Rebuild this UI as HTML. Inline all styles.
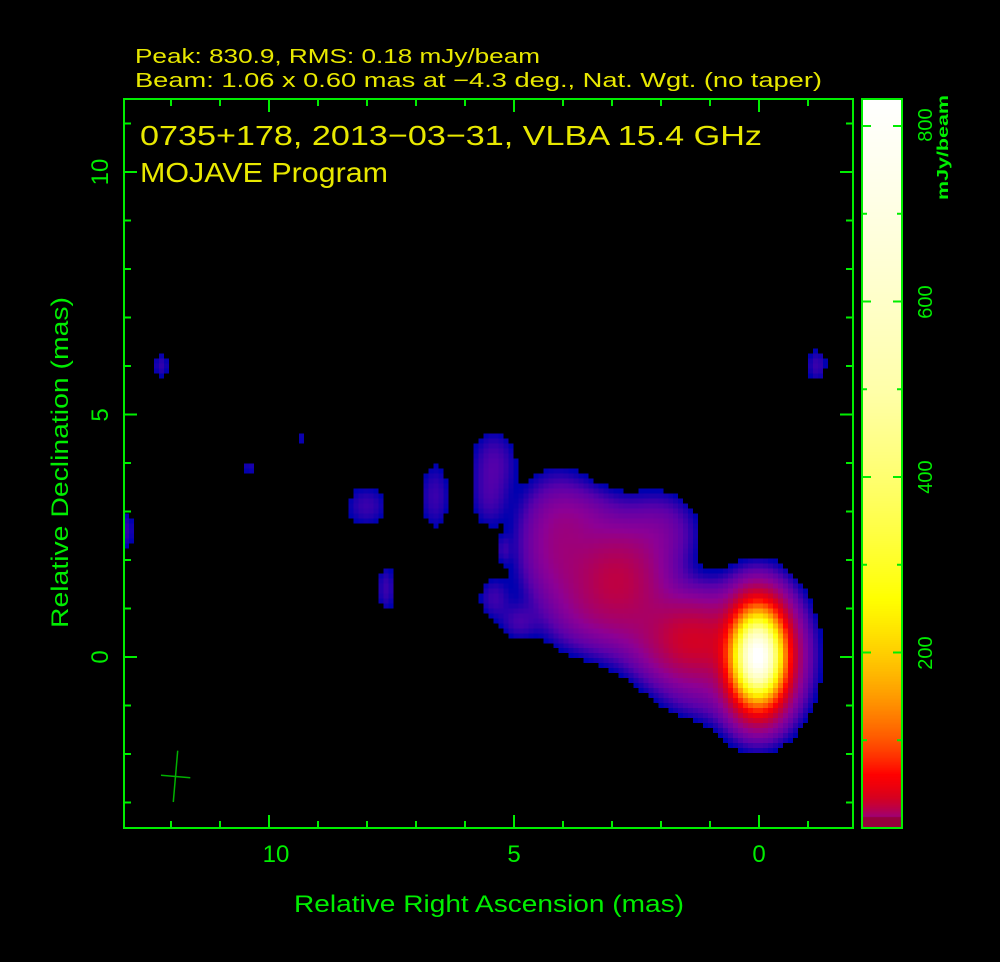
<!DOCTYPE html>
<html><head><meta charset="utf-8"><style>
html,body{margin:0;padding:0;background:#000;width:1000px;height:962px;overflow:hidden}
#c{position:absolute;left:124px;top:99px;image-rendering:pixelated}
#cb{position:absolute;left:862px;top:99px}
svg{position:absolute;left:0;top:0}
text{font-family:"Liberation Sans",sans-serif}
</style></head><body>
<canvas id="c" width="146" height="146" style="width:729px;height:729px"></canvas>
<canvas id="cb" width="40" height="729" style="width:40px;height:729px"></canvas>
<svg width="1000" height="962" id="s">
<g fill="#e8e800" font-size="20">
<text x="135" y="63" textLength="405" lengthAdjust="spacingAndGlyphs">Peak: 830.9, RMS: 0.18 mJy/beam</text>
<text x="135" y="87" textLength="687" lengthAdjust="spacingAndGlyphs">Beam: 1.06 x 0.60 mas at −4.3 deg., Nat. Wgt. (no taper)</text>
<text x="140" y="145" font-size="28" textLength="622" lengthAdjust="spacingAndGlyphs">0735+178, 2013−03−31, VLBA 15.4 GHz</text>
<text x="140" y="182" font-size="28" textLength="248" lengthAdjust="spacingAndGlyphs">MOJAVE Program</text>
</g>
<g fill="#00ee00" font-size="24">
<text x="759" y="862" text-anchor="middle">0</text>
<text x="514" y="862" text-anchor="middle">5</text>
<text x="276" y="862" text-anchor="middle">10</text>
<text x="294" y="912" textLength="390" lengthAdjust="spacingAndGlyphs">Relative Right Ascension (mas)</text>
<text transform="translate(108,657) rotate(-90)" text-anchor="middle">0</text>
<text transform="translate(108,415) rotate(-90)" text-anchor="middle">5</text>
<text transform="translate(108,172) rotate(-90)" text-anchor="middle">10</text>
<text transform="translate(68,628) rotate(-90)" textLength="331" lengthAdjust="spacingAndGlyphs">Relative Declination (mas)</text>
<g font-size="20">
<text transform="translate(932,653) rotate(-90)" text-anchor="middle">200</text>
<text transform="translate(932,477) rotate(-90)" text-anchor="middle">400</text>
<text transform="translate(932,302) rotate(-90)" text-anchor="middle">600</text>
<text transform="translate(932,125) rotate(-90)" text-anchor="middle">800</text>
<text transform="translate(948,200) rotate(-90)" font-size="16" font-weight="bold" textLength="105" lengthAdjust="spacingAndGlyphs">mJy/beam</text>
</g>
</g>
<rect x="124" y="99" width="729" height="729" fill="none" stroke="#00ee00" stroke-width="2"/>
<rect x="862" y="99" width="40" height="729" fill="none" stroke="#00ee00" stroke-width="2"/>
<g id="ticks" stroke="#00ee00" stroke-width="2"></g>
<g stroke="#00b000" stroke-width="1.5">
<line x1="177.7" y1="750.7" x2="173.3" y2="802"/>
<line x1="161" y1="775.3" x2="190.3" y2="777.7"/>
</g>
</svg>
<script>
var t='',x0=759,sx=49,y0=657,sy=48.5;
for(var i=-1;i<=12;i++){var x=x0-i*sx,L=(i%5==0)?13:7;if(x<126||x>851)continue;
t+='<line x1="'+x+'" y1="828" x2="'+x+'" y2="'+(828-L)+'"/><line x1="'+x+'" y1="99" x2="'+x+'" y2="'+(99+L)+'"/>';}
for(var j=-3;j<=11;j++){var y=y0-j*sy,L=(j%5==0)?13:7;if(y<101||y>826)continue;
t+='<line x1="124" y1="'+y+'" x2="'+(124+L)+'" y2="'+y+'"/><line x1="853" y1="'+y+'" x2="'+(853-L)+'" y2="'+y+'"/>';}
for(var v=100;v<=800;v+=100){var y=828-v*0.8775,L=(v%200==0)?9:5;
t+='<line x1="862" y1="'+y+'" x2="'+(862+L)+'" y2="'+y+'"/><line x1="902" y1="'+y+'" x2="'+(902-L)+'" y2="'+y+'"/>';}
document.getElementById('ticks').innerHTML=t;
var stops=[[1,[0,0,175]],[3,[90,0,170]],[8,[140,0,150]],[18,[175,0,90]],[35,[215,0,30]],[60,[255,0,0]],[130,[255,130,0]],[260,[255,255,0]],[500,[255,255,170]],[830,[255,255,255]]];
function cm(v){if(v<=stops[0][0])return stops[0][1];
for(var k=1;k<stops.length;k++){if(v<=stops[k][0]){var a=stops[k-1],b=stops[k];var f=Math.log(v/a[0])/Math.log(b[0]/a[0]);
return [0,1,2].map(function(q){return Math.round(a[1][q]+f*(b[1][q]-a[1][q]))});}}return [255,255,255];}
var comps=[[0,0,830,0.28,0.5],[0,0,30,0.5,0.75],[1.3,0.3,30,0.6,0.5],[2.9,1.6,22,0.6,0.65],[4.1,2.3,9,0.45,0.75],
[2.0,2.6,4,0.45,0.45],[2.2,0.7,5,0.7,0.5],[1.2,-0.8,2,0.5,0.35],[3.6,2.9,3,0.5,0.35],[3.6,0.9,3,0.5,0.45],
[5.4,4.0,2.5,0.3,0.45],[5.5,3.2,1.8,0.25,0.4],[6.6,3.3,2,0.22,0.5],[8.0,3.1,2,0.3,0.3],[7.6,1.4,2,0.14,0.35],
[5.4,1.2,2,0.22,0.3],[4.9,0.7,2,0.25,0.25],[12.2,6.0,1.8,0.12,0.2],[-1.2,6.0,2,0.15,0.25],[13.0,2.6,2,0.2,0.3],
[10.4,3.9,1.5,0.1,0.12],[9.3,4.5,1.5,0.06,0.12],[5.2,2.2,1.5,0.1,0.2]];
var c=document.getElementById('c'),g=c.getContext('2d'),im=g.createImageData(146,146);
for(var py=0;py<146;py++)for(var px=0;px<146;px++){
var ra=(x0-(124+px*5+2.5))/sx,de=(y0-(99+py*5+2.5))/sy,v=0;
for(var k=0;k<comps.length;k++){var p=comps[k],dx=(ra-p[0])/p[3],dy=(de-p[1])/p[4];v+=p[2]*Math.exp(-0.5*(dx*dx+dy*dy));}
var o=(py*146+px)*4,col=v<0.9?[0,0,0]:cm(v);im.data[o]=col[0];im.data[o+1]=col[1];im.data[o+2]=col[2];im.data[o+3]=255;}
g.putImageData(im,0,0);
var b=document.getElementById('cb').getContext('2d');
for(var y=0;y<729;y++){var v=(728-y)/0.8775;var col=v<12?[150,0,60]:cm(v);b.fillStyle='rgb('+col+')';b.fillRect(0,y,40,1);}
</script>
</body></html>
